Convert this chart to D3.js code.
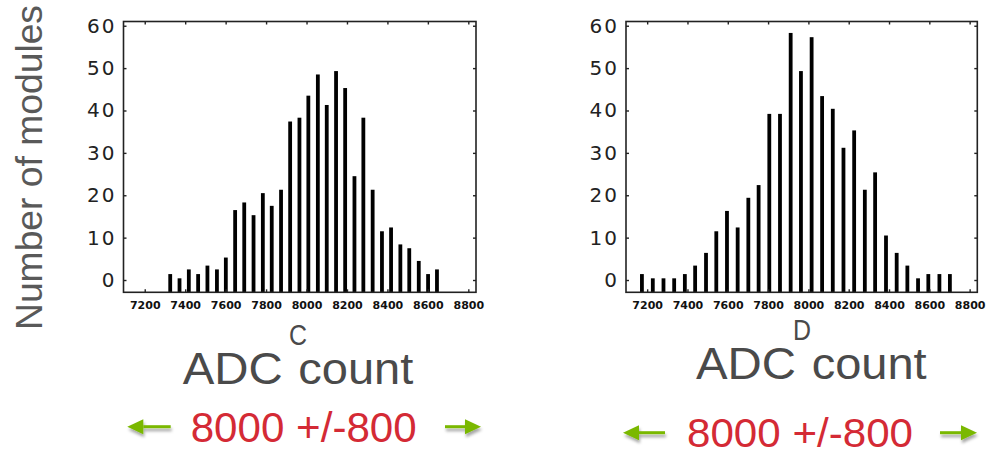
<!DOCTYPE html>
<html>
<head>
<meta charset="utf-8">
<script src="https://cdn.jsdelivr.net/npm/d3@7"></script>
<style>
  html, body { margin: 0; padding: 0; background: #fff; }
  svg { display: block; }
</style>
</head>
<body>
<script>
// ---- data ----
const binsC = [7326, 7372, 7418, 7464, 7510, 7557, 7601, 7647, 7692, 7738, 7784, 7828, 7874, 7919, 7965,
               8009, 8056, 8100, 8146, 8191, 8237, 8281, 8327, 8373, 8418, 8464, 8508, 8555, 8601, 8645];
const countsC = [1.4, 0.4, 2.5, 1.4, 3.4, 2.5, 5.3, 16.5, 18.3, 15.3, 20.5, 17.5, 21.3, 37.4, 38.3,
                 43.5, 48.5, 41.3, 49.3, 45.3, 24.5, 38.3, 21.3, 11.5, 12.4, 8.4, 7.5, 4.5, 1.4, 2.5];
const binsD = [7174, 7228, 7281, 7334, 7387, 7438, 7492, 7543, 7596, 7649, 7702, 7753, 7806, 7859, 7912,
               7963, 8016, 8068, 8121, 8174, 8227, 8280, 8331, 8385, 8438, 8491, 8544, 8595, 8650, 8702];
const countsD = [1.4, 0.4, 0.4, 0.4, 1.4, 3.4, 6.4, 11.5, 16.3, 12.4, 19.4, 22.4, 39.2, 39.2, 58.3,
                 49.3, 57.3, 43.4, 40.4, 31.2, 35.3, 21.3, 25.4, 10.5, 6.4, 3.4, 0.4, 1.4, 1.4, 1.4];
const xTicks = [7200, 7400, 7600, 7800, 8000, 8200, 8400, 8600, 8800];
const yTicks = [0, 10, 20, 30, 40, 50, 60];
const panelLetters = ["C", "D"];
const rangeLabel = "8000 +/-800";
const yTitle = "Number of modules";

const W = 987, H = 452;
const svg = d3.select("body").append("svg").attr("width", W).attr("height", H);

const defs = svg.append("defs");
const f = defs.append("filter").attr("id", "sh").attr("x", "-30%").attr("y", "-60%").attr("width", "160%").attr("height", "260%");
f.append("feDropShadow").attr("dx", 1).attr("dy", 3).attr("stdDeviation", 1.6).attr("flood-color", "#000").attr("flood-opacity", 0.35);

function panel(cfg) {
  const x = d3.scaleLinear().domain([7095, 8838]).range([cfg.left, cfg.right]);
  const y = d3.scaleLinear().domain([-2.9, 61]).range([292.3, 21.5]);
  const g = svg.append("g");

  // bars
  g.selectAll("rect.bar").data(cfg.bins.map((b, i) => ({ b, v: cfg.counts[i] })))
    .enter().append("rect").attr("class", "bar")
    .attr("x", d => x(d.b) - 1.9).attr("width", 3.8)
    .attr("y", d => y(d.v)).attr("height", d => y(-2.9) - y(d.v))
    .attr("fill", "#000");

  // axes (ticks inside the frame)
  const bottom = d3.axisBottom(x).tickValues(xTicks).tickSize(-3).tickPadding(15).tickFormat(d3.format("d"));
  const top = d3.axisTop(x).tickValues(xTicks).tickSize(-3).tickFormat("");
  const left = d3.axisLeft(y).tickValues(yTicks).tickSize(-3).tickPadding(7).tickFormat(d3.format("d"));
  const right = d3.axisRight(y).tickValues(yTicks).tickSize(-3).tickFormat("");

  const gb = g.append("g").attr("transform", `translate(0,${y.range()[0]})`).call(bottom);
  gb.attr("font-size", null).attr("font-family", null);
  gb.selectAll("text").style("font-family", "DejaVu Sans").style("font-weight", "bold")
    .style("font-size", "11px").attr("fill", "#111").attr("dy", "0.2em");
  g.append("g").attr("transform", `translate(0,${y.range()[1]})`).call(top);
  const gl = g.append("g").attr("transform", `translate(${cfg.left},0)`).call(left);
  gl.attr("font-size", null).attr("font-family", null);
  gl.selectAll("text").style("font-family", "DejaVu Sans").style("font-size", "20px")
    .style("letter-spacing", "2px").attr("fill", "#222");
  g.append("g").attr("transform", `translate(${cfg.right},0)`).call(right);
  g.selectAll(".domain").remove();
  g.selectAll(".tick line").attr("stroke", "#222").attr("stroke-width", 1.4);

  // frame
  g.append("rect").attr("x", cfg.left).attr("y", y.range()[1])
    .attr("width", cfg.right - cfg.left).attr("height", y.range()[0] - y.range()[1])
    .attr("fill", "none").attr("stroke", "#222").attr("stroke-width", 1.6);

  // axis title "ADC count" with superscript letter
  const tcol = "#4a4a4a";
  g.append("text").attr("x", cfg.adcX).attr("y", cfg.titleY).attr("font-family", "Liberation Sans")
    .attr("font-size", 45).attr("fill", tcol).attr("textLength", 100).attr("lengthAdjust", "spacingAndGlyphs").text("ADC");
  g.append("text").attr("x", cfg.supX).attr("y", cfg.titleY - 39).attr("font-family", "Liberation Sans")
    .attr("font-size", 29).attr("fill", tcol).attr("textLength", 18).attr("lengthAdjust", "spacingAndGlyphs").text(cfg.letter);
  g.append("text").attr("x", cfg.countX).attr("y", cfg.titleY).attr("font-family", "Liberation Sans")
    .attr("font-size", 45).attr("fill", tcol).attr("textLength", 115).attr("lengthAdjust", "spacingAndGlyphs").text("count");

  // red range label
  g.append("text").attr("x", cfg.redX).attr("y", cfg.redY).attr("font-family", "Liberation Sans")
    .attr("font-size", cfg.redSize).attr("fill", "#d42a35").attr("textLength", 226).attr("lengthAdjust", "spacingAndGlyphs").text(rangeLabel);

  // green arrows
  const green = "#7ab800";
  function arrow(x0, x1, yy, dir) {
    const ag = g.append("g").attr("filter", "url(#sh)");
    const tip = dir < 0 ? x0 : x1;
    const base = tip - dir * 16;
    const tail = dir < 0 ? x1 : x0;
    ag.append("line").attr("x1", tail).attr("x2", base).attr("y1", yy).attr("y2", yy)
      .attr("stroke", green).attr("stroke-width", 3);
    ag.append("path").attr("d", `M${tip},${yy} L${base},${yy - 7.5} L${base},${yy + 7.5} Z`).attr("fill", green);
  }
  arrow(cfg.arrows[0], cfg.arrows[1], cfg.arrowY, -1);
  arrow(cfg.arrows[2], cfg.arrows[3], cfg.arrowY, 1);
}

panel({ left: 123.5, right: 476, bins: binsC, counts: countsC, letter: panelLetters[0],
        adcX: 182.7, supX: 289, countX: 298.3, titleY: 384,
        redX: 190.7, redY: 441.7, redSize: 42,
        arrows: [127.3, 170.7, 445, 481], arrowY: 426.7 });
panel({ left: 626, right: 977.3, bins: binsD, counts: countsD, letter: panelLetters[1],
        adcX: 696, supX: 793, countX: 811.7, titleY: 379,
        redX: 687, redY: 447, redSize: 40,
        arrows: [623, 665, 940, 977], arrowY: 432.7 });

// shared y title
svg.append("text").attr("transform", "translate(42,330) rotate(-90)")
  .attr("font-family", "Liberation Sans").attr("font-size", 37).attr("fill", "#595959")
  .attr("textLength", 325).attr("lengthAdjust", "spacingAndGlyphs").text(yTitle);
</script>
</body>
</html>
